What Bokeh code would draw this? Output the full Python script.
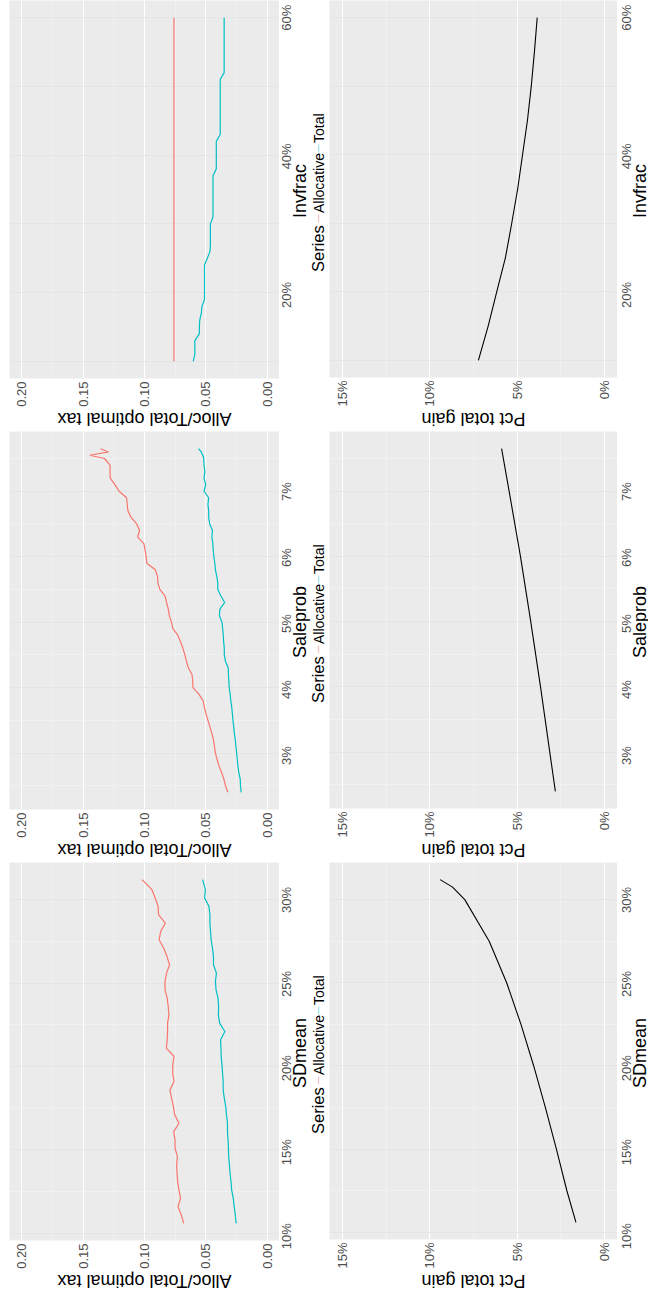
import math
from bokeh.plotting import figure
from bokeh.models import Range1d, FixedTicker, NumeralTickFormatter
from bokeh.core.properties import value
from bokeh.layouts import column, row
from bokeh.embed import file_html
from bokeh.resources import INLINE

FONT = "Liberation Sans"
RED = "#F8766D"
CYAN = "#00BFC4"
TICK_COL = "#4D4D4D"

# ---------------- data ----------------
sdmean = [0.106, 0.111, 0.116, 0.121, 0.126, 0.131, 0.136, 0.141, 0.146, 0.151,
          0.156, 0.161, 0.166, 0.171, 0.176, 0.181, 0.186, 0.191, 0.196, 0.201,
          0.206, 0.211, 0.216, 0.221, 0.226, 0.231, 0.236, 0.241, 0.246, 0.251,
          0.256, 0.261, 0.266, 0.271, 0.276, 0.281, 0.286, 0.291, 0.296, 0.301,
          0.306, 0.312]
sdmean_alloc = [0.0680, 0.0700, 0.0727, 0.0706, 0.0719, 0.0730, 0.0735, 0.0738, 0.0732, 0.0751,
                0.0751, 0.0762, 0.0719, 0.0754, 0.0764, 0.0780, 0.0793, 0.0759, 0.0770, 0.0770,
                0.0759, 0.0822, 0.0815, 0.0812, 0.0812, 0.0801, 0.0807, 0.0815, 0.0833, 0.0833,
                0.0820, 0.0796, 0.0817, 0.0844, 0.0881, 0.0868, 0.0830, 0.0886, 0.0889, 0.0913,
                0.0939, 0.1020]
sdmean_total = [0.0253, 0.0260, 0.0269, 0.0277, 0.0290, 0.0295, 0.0303, 0.0308, 0.0314, 0.0316,
                0.0319, 0.0324, 0.0324, 0.0332, 0.0338, 0.0350, 0.0359, 0.0359, 0.0364, 0.0369,
                0.0375, 0.0377, 0.0380, 0.0345, 0.0388, 0.0398, 0.0396, 0.0401, 0.0417, 0.0422,
                0.0414, 0.0438, 0.0438, 0.0446, 0.0457, 0.0462, 0.0467, 0.0467, 0.0475, 0.0510,
                0.0504, 0.0526]

saleprob = [0.024, 0.025, 0.026, 0.027, 0.028, 0.029, 0.030, 0.031, 0.032, 0.033,
            0.034, 0.035, 0.036, 0.037, 0.038, 0.039, 0.040, 0.041, 0.042, 0.043,
            0.044, 0.045, 0.046, 0.047, 0.048, 0.049, 0.050, 0.051, 0.052, 0.053,
            0.054, 0.055, 0.056, 0.057, 0.058, 0.059, 0.060, 0.061, 0.062, 0.063,
            0.064, 0.065, 0.066, 0.067, 0.068, 0.069, 0.070, 0.071, 0.072, 0.073,
            0.074, 0.075, 0.0755, 0.076, 0.0765]
saleprob_alloc = [0.0321, 0.0340, 0.0353, 0.0371, 0.0393, 0.0408, 0.0422, 0.0430, 0.0438, 0.0451,
                  0.0467, 0.0483, 0.0499, 0.0512, 0.0523, 0.0557, 0.0605, 0.0607, 0.0613, 0.0642,
                  0.0658, 0.0671, 0.0687, 0.0706, 0.0729, 0.0769, 0.0780, 0.0798, 0.0806, 0.0820,
                  0.0833, 0.0875, 0.0891, 0.0894, 0.0912, 0.0981, 0.0987, 0.0995, 0.1005, 0.1056,
                  0.1040, 0.1064, 0.1109, 0.1135, 0.1141, 0.1146, 0.1207, 0.1241, 0.1279, 0.1281,
                  0.1281, 0.1326, 0.1446, 0.1294, 0.1358]
saleprob_total = [0.0212, 0.0218, 0.0220, 0.0231, 0.0239, 0.0244, 0.0249, 0.0255, 0.0260, 0.0268,
                  0.0273, 0.0279, 0.0284, 0.0289, 0.0297, 0.0302, 0.0310, 0.0313, 0.0316, 0.0318,
                  0.0340, 0.0350, 0.0350, 0.0355, 0.0358, 0.0363, 0.0369, 0.0390, 0.0385, 0.0347,
                  0.0377, 0.0403, 0.0403, 0.0411, 0.0422, 0.0427, 0.0435, 0.0440, 0.0443, 0.0451,
                  0.0446, 0.0469, 0.0477, 0.0477, 0.0483, 0.0477, 0.0515, 0.0501, 0.0515, 0.0508,
                  0.0515, 0.0517, 0.0525, 0.0538, 0.0560]

invfrac = [0.10, 0.11, 0.12, 0.13, 0.14, 0.15, 0.16, 0.17, 0.18, 0.19,
           0.20, 0.21, 0.22, 0.23, 0.24, 0.25, 0.26, 0.27, 0.28, 0.29,
           0.30, 0.31, 0.32, 0.33, 0.34, 0.35, 0.36, 0.37, 0.38, 0.39,
           0.40, 0.41, 0.42, 0.43, 0.44, 0.45, 0.46, 0.47, 0.48, 0.49,
           0.50, 0.51, 0.52, 0.53, 0.54, 0.55, 0.56, 0.57, 0.58, 0.59,
           0.60]
invfrac_alloc = [0.076, 0.076, 0.076, 0.076, 0.076, 0.076, 0.076, 0.076, 0.076, 0.076,
                 0.076, 0.076, 0.076, 0.076, 0.076, 0.076, 0.076, 0.076, 0.076, 0.076,
                 0.076, 0.076, 0.076, 0.076, 0.076, 0.076, 0.076, 0.076, 0.076, 0.076,
                 0.076, 0.076, 0.076, 0.076, 0.076, 0.076, 0.076, 0.076, 0.076, 0.076,
                 0.076, 0.076, 0.076, 0.076, 0.076, 0.076, 0.076, 0.076, 0.076, 0.076,
                 0.076]
invfrac_total = [0.0603, 0.0590, 0.0590, 0.0590, 0.0553, 0.0553, 0.0550, 0.0537, 0.0532, 0.0511,
                 0.0511, 0.0511, 0.0511, 0.0511, 0.0511, 0.0488, 0.0466, 0.0463, 0.0463, 0.0463,
                 0.0463, 0.0442, 0.0442, 0.0442, 0.0442, 0.0442, 0.0442, 0.0442, 0.0415, 0.0415,
                 0.0415, 0.0415, 0.0415, 0.0383, 0.0383, 0.0383, 0.0383, 0.0383, 0.0383, 0.0383,
                 0.0383, 0.0383, 0.0351, 0.0351, 0.0351, 0.0351, 0.0351, 0.0351, 0.0351, 0.0351,
                 0.0351]

sdmean_g = [0.106, 0.125, 0.150, 0.175, 0.200, 0.225, 0.250, 0.275, 0.300, 0.3075, 0.312]
sdmean_gain = [0.0163, 0.0215, 0.0275, 0.0338, 0.0405, 0.0478, 0.0560, 0.0660, 0.0800, 0.0870, 0.0941]
saleprob_g = [0.024, 0.030, 0.040, 0.050, 0.060, 0.070, 0.0765]
saleprob_gain = [0.0281, 0.0313, 0.0366, 0.0422, 0.0481, 0.0546, 0.0589]
invfrac_g = [0.10, 0.15, 0.20, 0.25, 0.30, 0.35, 0.40, 0.45, 0.50, 0.55, 0.60]
invfrac_gain = [0.0722, 0.0666, 0.0617, 0.0567, 0.0531, 0.0497, 0.0469, 0.0441, 0.0419, 0.0401, 0.0385]

tax_ticks = [0.0, 0.05, 0.10, 0.15, 0.20]
tax_minor = [0.025, 0.075, 0.125, 0.175]
gain_ticks = [0.0, 0.05, 0.10, 0.15]
gain_minor = [0.025, 0.075, 0.125]

series_names = ["Allocative", "Total"]
legend_title = "Series"
tax_title = "Alloc/Total optimal tax"
gain_title = "Pct total gain"

rows_spec = [
    ("Invfrac", invfrac, invfrac_alloc, invfrac_total, invfrac_g, invfrac_gain,
     (0.075, 0.625), [0.2, 0.4, 0.6], ["20%", "40%", "60%"], [0.1, 0.3, 0.5]),
    ("Saleprob", saleprob, saleprob_alloc, saleprob_total, saleprob_g, saleprob_gain,
     (0.021375, 0.079125), [0.03, 0.04, 0.05, 0.06, 0.07], ["3%", "4%", "5%", "6%", "7%"],
     [0.025, 0.035, 0.045, 0.055, 0.065, 0.075]),
    ("SDmean", sdmean, sdmean_alloc, sdmean_total, sdmean_g, sdmean_gain,
     (0.0957, 0.3223), [0.10, 0.15, 0.20, 0.25, 0.30], ["10%", "15%", "20%", "25%", "30%"],
     [0.125, 0.175, 0.225, 0.275]),
]

# ---------------- layout constants (pixels) ----------------
ROW_H = 431
AX_B = 28      # bottom axis band (tick labels)
TITLE_H = 22   # band for the bottom axis title
PLOT_H = ROW_H - TITLE_H
FRAME_H = PLOT_H - AX_B
LEFT_PAD = 9
W_A, W_SA, W_B, W_SB = 279, 50, 288, 31   # total 648


def blank(width, height, xr, yr, left=0):
    p = figure(width=width, height=height, x_range=xr, y_range=yr,
               output_backend="svg", toolbar_location=None,
               x_axis_location=None, y_axis_location=None,
               min_border_left=left, min_border_right=0,
               min_border_top=0, min_border_bottom=0)
    p.background_fill_color = "white"
    p.border_fill_color = "white"
    p.outline_line_color = None
    p.grid.visible = False
    return p


def panel(width, xr, yr, xt, xm, xfmt, yt, ym, left):
    p = figure(width=width, height=PLOT_H, x_range=xr, y_range=yr,
               output_backend="svg", toolbar_location=None,
               x_axis_location="below", y_axis_location=None,
               min_border_left=left, min_border_right=0, min_border_top=0,
               min_border_bottom=AX_B)
    p.background_fill_color = "#EBEBEB"
    p.border_fill_color = "white"
    p.outline_line_color = None
    xtk = FixedTicker(ticks=xt, minor_ticks=xm)
    p.xaxis.ticker = xtk
    p.xgrid.ticker = xtk
    p.xaxis.formatter = NumeralTickFormatter(format=xfmt)
    ax = p.xaxis[0]
    ax.axis_line_color = None
    ax.major_tick_line_color = None
    ax.minor_tick_line_color = None
    ax.major_tick_out = 0
    ax.major_tick_in = 0
    ax.minor_tick_out = 0
    ax.minor_tick_in = 0
    ax.major_label_text_font = FONT
    ax.major_label_text_font_size = "13px"
    ax.major_label_text_color = TICK_COL
    ax.major_label_orientation = math.pi / 2
    ax.major_label_standoff = 3
    for g in p.xgrid:
        g.grid_line_color = "white"
        g.grid_line_width = 1.1
        g.minor_grid_line_color = "#F5F5F5"
        g.minor_grid_line_width = 0.6
    # horizontal grid lines (parameter axis)
    p.hspan(y=yt, line_color="white", line_width=1.1, level="underlay")
    p.hspan(y=ym, line_color="#F5F5F5", line_width=0.6, level="underlay")
    return p


def side(width, yrv, yt, ylabels, name, tick_x, title_x):
    # full-height strip; its y scale continues the panel's scale below the panel
    span = yrv[1] - yrv[0]
    yr_s = Range1d(yrv[0] - span * (ROW_H - FRAME_H) / FRAME_H, yrv[1])
    s = blank(width, ROW_H, Range1d(0, width), yr_s)
    s.text(x=[tick_x] * len(yt), y=yt, text=ylabels, angle=math.pi / 2,
           text_font=value(FONT), text_font_size=value("13px"), text_color=TICK_COL,
           text_align="center", text_baseline="middle")
    s.text(x=[title_x], y=[(yrv[0] + yrv[1]) / 2], text=[name], angle=math.pi / 2,
           text_font=value(FONT), text_font_size=value("18px"), text_color="black",
           text_align="center", text_baseline="middle")
    return s


def title_band(width, xr, text, left):
    t = blank(width, TITLE_H, xr, Range1d(0, TITLE_H), left=left)
    t.text(x=[(xr.start + xr.end) / 2], y=[13], text=[text], angle=math.pi,
           text_font=value(FONT), text_font_size=value("18px"), text_color="black",
           text_align="center", text_baseline="middle")
    return t


rows = []
for name, par, alloc, total, gpar, gain, yrv, yt, ylab, ym in rows_spec:
    yr = Range1d(*yrv)
    xr_tax = Range1d(0.21, -0.01)
    xr_gain = Range1d(0.1575, -0.0075)

    a = panel(W_A, xr_tax, yr, tax_ticks, tax_minor, "0.00", yt, ym, LEFT_PAD)
    a.line(alloc, par, line_color=RED, line_width=1.2)
    a.line(total, par, line_color=CYAN, line_width=1.2)
    ta = title_band(W_A, xr_tax, tax_title, LEFT_PAD)

    sa = side(W_SA, yrv, yt, ylab, name, 7, 20)
    ymid = (yrv[0] + yrv[1]) / 2
    # legend: title, keys and labels (rotated like the rest of the chart)
    sa.text(x=[38], y=[ymid], y_offset=[81], text=[legend_title], angle=math.pi / 2,
            text_font=value(FONT), text_font_size=value("16.5px"), text_color="black",
            text_align="left", text_baseline="middle")
    sa.text(x=[39, 39], y=[ymid, ymid], y_offset=[22, -48], text=series_names,
            angle=math.pi / 2, text_font=value(FONT), text_font_size=value("14px"),
            text_color="black", text_align="left", text_baseline="middle")
    sa.text(x=[38, 38], y=[ymid, ymid], y_offset=[27.5, -42.5], text=["\u2014", "\u2014"],
            angle=math.pi / 2, text_font=value(FONT), text_font_size=value("8px"),
            text_color=[RED, CYAN], text_align="center", text_baseline="middle")

    b = panel(W_B, xr_gain, yr, gain_ticks, gain_minor, "0%", yt, ym, 0)
    b.line(gain, gpar, line_color="black", line_width=1.1)
    tb = title_band(W_B, xr_gain, gain_title, 0)

    sb = side(W_SB, yrv, yt, ylab, name, 9, 22)

    rows.append(row(column(a, ta), sa, column(b, tb), sb))

layout = column(*rows)
open("out.html", "w").write(file_html(layout, INLINE))
